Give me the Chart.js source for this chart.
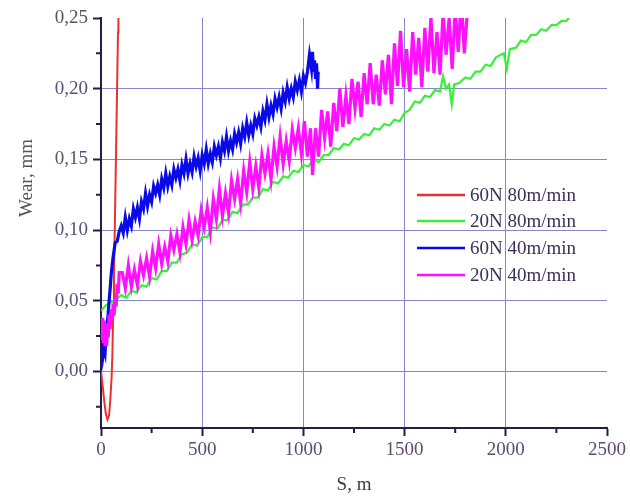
<!DOCTYPE html>
<html>
<head>
<meta charset="utf-8">
<script src="https://cdn.jsdelivr.net/npm/chart.js@4"></script>
<style>
  body { margin: 0; background: #fff; }
  #wrap { width: 630px; height: 496px; }
</style>
</head>
<body>
<div id="wrap"><canvas id="myChart" width="630" height="496"></canvas></div>
<script>
// legend names and axis ticks
const seriesNames = ['60N 80m/min', '20N 80m/min', '60N 40m/min', '20N 40m/min'];
const xTicks = [0, 500, 1000, 1500, 2000, 2500];
const yTicks = [0.00, 0.05, 0.10, 0.15, 0.20, 0.25];
const xMinor = [250, 750, 1250, 1750, 2250];
const yMinor = [-0.025, 0.025, 0.075, 0.125, 0.175, 0.225];

// 60N 80m/min (red)
const redS    = [0, 8, 16, 24, 32, 40, 46, 52, 56, 60, 64, 68, 72, 76, 80, 84, 86];
const redWear = [0.000, -0.010, -0.021, -0.030, -0.034, -0.031, -0.020, -0.005, 0.010, 0.040, 0.070, 0.100, 0.135, 0.170, 0.205, 0.240, 0.260];

// 20N 80m/min (green)
const greenS = [0, 25, 50, 75, 100, 125, 150, 175, 200, 225, 250, 275, 300, 325, 350, 375, 400, 425, 450, 475,
  500, 525, 550, 575, 600, 625, 650, 675, 700, 725, 750, 775, 800, 825, 850, 875, 900, 925, 950, 975,
  1000, 1025, 1050, 1075, 1100, 1125, 1150, 1175, 1200, 1225, 1250, 1275, 1300, 1325, 1350, 1375, 1400, 1425, 1450, 1475,
  1500, 1525, 1550, 1575, 1600, 1625, 1650, 1675, 1690, 1705, 1720, 1733, 1745, 1770, 1800, 1825, 1850, 1875, 1900, 1925,
  1950, 1975, 1990, 2005, 2020, 2050, 2075, 2100, 2125, 2150, 2175, 2200, 2225, 2250, 2275, 2300, 2316];
const greenWear = [0.043, 0.047, 0.049, 0.051, 0.054, 0.052, 0.057, 0.056, 0.061, 0.060, 0.066, 0.065, 0.071, 0.071, 0.077, 0.077, 0.083, 0.084, 0.090, 0.089,
  0.095, 0.095, 0.102, 0.101, 0.107, 0.107, 0.113, 0.112, 0.118, 0.118, 0.123, 0.123, 0.129, 0.128, 0.134, 0.133, 0.138, 0.137, 0.142, 0.141,
  0.146, 0.145, 0.150, 0.148, 0.153, 0.153, 0.158, 0.157, 0.161, 0.160, 0.165, 0.164, 0.168, 0.167, 0.172, 0.171, 0.175, 0.174, 0.178, 0.177,
  0.183, 0.185, 0.191, 0.190, 0.195, 0.194, 0.199, 0.198, 0.209, 0.200, 0.203, 0.189, 0.203, 0.204, 0.208, 0.207, 0.212, 0.212, 0.217, 0.216,
  0.222, 0.224, 0.225, 0.214, 0.228, 0.229, 0.234, 0.233, 0.238, 0.238, 0.242, 0.241, 0.245, 0.245, 0.248, 0.248, 0.251];

// 60N 40m/min (blue)
const blueS = [0, 5, 10, 15, 20, 25, 30, 35, 40, 45, 50, 55, 60, 65, 70, 80, 90,
  100, 110, 120, 130, 140, 150, 160, 170, 180, 190, 200, 210, 220, 230, 240, 250, 260, 270, 280, 290,
  300, 310, 320, 330, 340, 350, 360, 370, 380, 390, 400, 410, 420, 430, 440, 450, 460, 470, 480, 490,
  500, 510, 520, 530, 540, 550, 560, 570, 580, 590, 600, 610, 620, 630, 640, 650, 660, 670, 680, 690,
  700, 710, 720, 730, 740, 750, 760, 770, 780, 790, 800, 810, 820, 830, 840, 850, 860, 870, 880, 890,
  900, 910, 920, 930, 940, 950, 960, 970, 980, 990, 1000, 1010, 1020, 1030, 1040, 1045, 1050, 1055, 1060, 1065, 1070, 1073];
const blueWear = [0.032, 0.022, 0.011, 0.016, 0.013, 0.026, 0.033, 0.040, 0.050, 0.058, 0.068, 0.075, 0.081, 0.086, 0.091, 0.092, 0.099,
  0.103, 0.098, 0.109, 0.100, 0.108, 0.103, 0.115, 0.109, 0.116, 0.108, 0.120, 0.115, 0.126, 0.117, 0.125, 0.120, 0.131, 0.126, 0.132, 0.125,
  0.136, 0.130, 0.140, 0.131, 0.138, 0.132, 0.143, 0.137, 0.143, 0.135, 0.146, 0.140, 0.150, 0.140, 0.147, 0.141, 0.152, 0.145, 0.151, 0.142,
  0.153, 0.147, 0.157, 0.147, 0.154, 0.148, 0.159, 0.153, 0.159, 0.151, 0.162, 0.156, 0.166, 0.156, 0.163, 0.157, 0.168, 0.162, 0.169, 0.161,
  0.172, 0.166, 0.176, 0.167, 0.174, 0.168, 0.179, 0.174, 0.180, 0.173, 0.184, 0.178, 0.189, 0.180, 0.188, 0.182, 0.193, 0.187, 0.194, 0.186,
  0.197, 0.191, 0.201, 0.193, 0.200, 0.194, 0.205, 0.199, 0.206, 0.198, 0.209, 0.204, 0.212, 0.224, 0.214, 0.226, 0.212, 0.220, 0.207, 0.218, 0.200, 0.212];

// 20N 40m/min (magenta)
const pinkS = [0, 4, 8, 12, 16, 20, 24, 28, 32, 36, 40, 45, 50, 55, 60, 65, 70, 75, 80, 85, 90,
  105, 120, 135, 150, 165, 180, 195, 210, 225, 240, 255, 270, 285, 300, 315, 330, 345, 360, 375, 390,
  405, 420, 435, 450, 465, 480, 495, 510, 525, 540, 555, 570, 585, 600, 615, 630, 645, 660, 675, 690,
  705, 720, 735, 750, 765, 780, 795, 810, 825, 840, 855, 870, 885, 900, 915, 930, 945, 960, 975, 990,
  1005, 1020, 1035, 1045, 1060, 1075, 1090, 1105, 1120, 1135, 1150, 1165, 1180, 1195, 1210, 1225, 1240, 1255, 1270, 1285,
  1300, 1315, 1330, 1345, 1360, 1375, 1390, 1405, 1420, 1435, 1450, 1465, 1480, 1495, 1510, 1525, 1540, 1555, 1570, 1585,
  1600, 1615, 1630, 1645, 1660, 1675, 1690, 1705, 1720, 1735, 1750, 1765, 1780, 1795, 1810];
const pinkWear = [0.035, 0.022, 0.038, 0.020, 0.036, 0.019, 0.034, 0.018, 0.033, 0.024, 0.040, 0.030, 0.044, 0.036, 0.048, 0.040, 0.052, 0.046, 0.062, 0.055, 0.070,
  0.070, 0.059, 0.075, 0.060, 0.072, 0.061, 0.078, 0.068, 0.080, 0.067, 0.085, 0.073, 0.090, 0.076, 0.088, 0.078, 0.096, 0.086, 0.097, 0.084,
  0.102, 0.090, 0.107, 0.093, 0.106, 0.096, 0.114, 0.102, 0.116, 0.099, 0.122, 0.108, 0.129, 0.110, 0.126, 0.112, 0.135, 0.122, 0.136, 0.119,
  0.142, 0.127, 0.148, 0.129, 0.145, 0.130, 0.153, 0.140, 0.154, 0.136, 0.159, 0.145, 0.166, 0.147, 0.163, 0.149, 0.171, 0.158, 0.172, 0.154,
  0.177, 0.152, 0.172, 0.139, 0.172, 0.152, 0.185, 0.165, 0.184, 0.159, 0.190, 0.170, 0.200, 0.173, 0.195, 0.175, 0.207, 0.186, 0.205, 0.180,
  0.211, 0.189, 0.218, 0.189, 0.210, 0.188, 0.220, 0.196, 0.224, 0.189, 0.232, 0.202, 0.241, 0.201, 0.228, 0.198, 0.240, 0.210, 0.236, 0.201,
  0.243, 0.212, 0.251, 0.211, 0.240, 0.210, 0.254, 0.224, 0.250, 0.214, 0.257, 0.226, 0.265, 0.225, 0.254];

const colors = ['#e8322c', '#3cee3c', '#0a0ae8', '#ff10ff'];

function toPoints(xs, ys) {
  let pts = [];
  for (let i = 0; i < xs.length; i++) pts.push({ x: xs[i], y: ys[i] });
  return pts;
}

const tickFont = { family: '"Liberation Serif", "DejaVu Serif", serif', size: 19 };

// legend, axis titles and minor ticks drawn on top of the chart
const extras = {
  id: 'extras',
  afterDraw(chart) {
    const ctx = chart.ctx;
    const xs = chart.scales.x, ys = chart.scales.y;
    ctx.save();

    // minor ticks
    ctx.strokeStyle = '#261c44';
    ctx.lineWidth = 2;
    ctx.beginPath();
    xMinor.forEach(v => {
      const px = xs.getPixelForValue(v);
      ctx.moveTo(px, ys.bottom);
      ctx.lineTo(px, ys.bottom + 5);
    });
    yMinor.forEach(v => {
      const py = ys.getPixelForValue(v);
      ctx.moveTo(xs.left, py);
      ctx.lineTo(xs.left - 5, py);
    });
    ctx.stroke();

    // axis titles
    ctx.font = '19px "Liberation Serif", serif';
    ctx.fillStyle = '#3c3c3c';
    ctx.textAlign = 'center';
    ctx.textBaseline = 'alphabetic';
    ctx.fillText('S, m', (xs.left + xs.right) / 2, 490);
    ctx.save();
    ctx.translate(32, 178);
    ctx.rotate(-Math.PI / 2);
    ctx.fillStyle = '#555555';
    ctx.fillText('Wear, mm', 0, 0);
    ctx.restore();

    // legend
    ctx.textAlign = 'left';
    ctx.textBaseline = 'middle';
    ctx.font = '19px "Liberation Serif", serif';
    const rows = [195, 221, 248, 275];
    seriesNames.forEach((name, i) => {
      ctx.strokeStyle = colors[i];
      ctx.lineWidth = 2.5;
      ctx.beginPath();
      ctx.moveTo(417, rows[i]);
      ctx.lineTo(465, rows[i]);
      ctx.stroke();
      ctx.fillStyle = '#3e2f58';
      ctx.fillText(name, 470, rows[i] + 1);
    });
    ctx.restore();
  }
};

const ctx = document.getElementById('myChart');

new Chart(ctx, {
  type: 'line',
  data: {
    datasets: [
      { label: seriesNames[0], data: toPoints(redS, redWear), borderColor: colors[0], borderWidth: 2, order: 3 },
      { label: seriesNames[1], data: toPoints(greenS, greenWear), borderColor: colors[1], borderWidth: 2.2, order: 2 },
      { label: seriesNames[2], data: toPoints(blueS, blueWear), borderColor: colors[2], borderWidth: 3.2, order: 1 },
      { label: seriesNames[3], data: toPoints(pinkS, pinkWear), borderColor: colors[3], borderWidth: 3.2, order: 0 }
    ]
  },
  options: {
    responsive: false,
    animation: false,
    events: [],
    layout: { padding: { left: 0, right: 23, top: 18, bottom: 0 } },
    elements: { point: { radius: 0 }, line: { tension: 0 } },
    plugins: { legend: { display: false }, tooltip: { enabled: false } },
    scales: {
      x: {
        type: 'linear',
        min: 0,
        max: 2500,
        afterBuildTicks: axis => { axis.ticks = xTicks.map(v => ({ value: v })); },
        afterFit: axis => { axis.height = 68; },
        ticks: { font: tickFont, color: '#5e4a72', padding: 3, maxRotation: 0, callback: v => String(v) },
        grid: {
          color: c => (c.tick && c.tick.value > 0 && c.tick.value < 2500) ? '#8585d2' : 'rgba(0,0,0,0)',
          lineWidth: 1,
          tickColor: '#261c44',
          tickWidth: 2,
          tickLength: 8
        },
        border: { color: '#261c44', width: 2 }
      },
      y: {
        type: 'linear',
        min: -0.04,
        max: 0.25,
        afterBuildTicks: axis => { axis.ticks = yTicks.map(v => ({ value: v })); },
        afterFit: axis => { axis.width = 101; },
        ticks: {
          font: tickFont,
          color: '#5a5070',
          padding: 5,
          callback: v => v.toFixed(2).replace('.', ',')
        },
        grid: {
          color: c => (c.tick && c.tick.value < 0.25) ? '#8585d2' : 'rgba(0,0,0,0)',
          lineWidth: 1,
          tickColor: '#261c44',
          tickWidth: 2,
          tickLength: 8
        },
        border: { color: '#261c44', width: 2 }
      }
    }
  },
  plugins: [extras]
});
</script>
</body>
</html>
